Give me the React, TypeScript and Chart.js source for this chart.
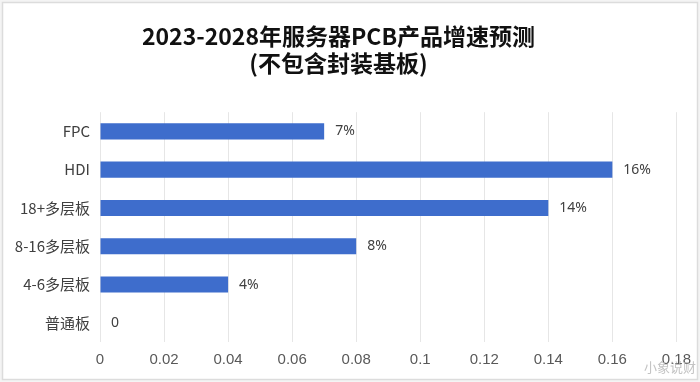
import React, { useEffect, useRef } from "react";
import { Chart, registerables } from "chart.js";

Chart.register(...registerables);

const titleLines = ["2023-2028年服务器PCB产品增速预测", "(不包含封装基板)"];
const categories = ["FPC", "HDI", "18+多层板", "8-16多层板", "4-6多层板", "普通板"];
const growthValues = [0.07, 0.16, 0.14, 0.08, 0.04, 0];
const valueLabels = ["7%", "16%", "14%", "8%", "4%", "0"];
const xMin = 0;
const xMax = 0.18;
const xStep = 0.02;
const watermark = "小象说财";

const CJK = '"Noto Sans CJK SC", "Noto Sans", sans-serif';

export default function App() {
  const ref = useRef<HTMLCanvasElement | null>(null);

  useEffect(() => {
    document.body.style.margin = "0";
    const canvas = ref.current;
    if (!canvas) return;

    const framePlugin = {
      id: "frame",
      beforeDraw(chart: any) {
        const { ctx, width, height } = chart;
        ctx.save();
        ctx.fillStyle = "#f4f4f4";
        ctx.fillRect(0, 0, width, height);
        ctx.fillStyle = "#ffffff";
        ctx.fillRect(3, 3, width - 6, height - 6);
        ctx.strokeStyle = "#dcdcdc";
        ctx.lineWidth = 1.5;
        ctx.strokeRect(2.5, 2.5, width - 5, height - 5);
        ctx.restore();
      },
    };

    const labelPlugin = {
      id: "valueLabels",
      afterDatasetsDraw(chart: any) {
        const { ctx } = chart;
        const meta = chart.getDatasetMeta(0);
        ctx.save();
        ctx.font = '14px "Noto Sans", sans-serif';
        ctx.fillStyle = "#404040";
        ctx.textAlign = "left";
        ctx.textBaseline = "middle";
        meta.data.forEach((bar: any, i: number) => {
          const xPos = Math.max(bar.x, bar.base);
          ctx.fillText(valueLabels[i], xPos + 11, bar.y);
        });
        ctx.font = "13px " + CJK;
        ctx.fillStyle = "rgba(185,185,185,0.85)";
        ctx.textAlign = "right";
        ctx.fillText(watermark, chart.width - 4, 367);
        ctx.restore();
      },
    };

    const chart = new Chart(canvas, {
      type: "bar",
      data: {
        labels: categories,
        datasets: [
          {
            data: growthValues,
            backgroundColor: "#3e6dcc",
            borderWidth: 0,
            categoryPercentage: 1,
            barPercentage: 0.42,
          },
        ],
      },
      options: {
        indexAxis: "y",
        animation: false,
        responsive: false,
        maintainAspectRatio: false,
        layout: { padding: { left: 0, right: 23, top: 0, bottom: 4 } },
        plugins: {
          legend: { display: false },
          tooltip: { enabled: false },
          title: {
            display: true,
            text: titleLines,
            color: "#111111",
            font: { family: CJK, size: 23, weight: "bold", lineHeight: 1.2 },
            padding: { top: 22, bottom: 35 },
          },
        },
        scales: {
          x: {
            min: xMin,
            max: xMax,
            ticks: {
              stepSize: xStep,
              color: "#595959",
              padding: 9,
              font: { family: '"Liberation Sans Narrow", "Liberation Sans", sans-serif', size: 15 },
              callback: (v: any) => String(Number(Number(v).toFixed(2))),
            },
            grid: { color: "#e6e6e6", drawTicks: false, lineWidth: 1 },
            border: { display: false },
          },
          y: {
            afterFit: (scale: any) => {
              scale.width = 100;
            },
            ticks: {
              color: "#404040",
              padding: 10,
              font: { family: CJK, size: 15 },
            },
            grid: { display: false, drawTicks: false },
            border: { display: false },
          },
        },
      },
      plugins: [framePlugin, labelPlugin],
    });

    return () => chart.destroy();
  }, []);

  return <canvas ref={ref} width={700} height={382} style={{ display: "block" }} />;
}
